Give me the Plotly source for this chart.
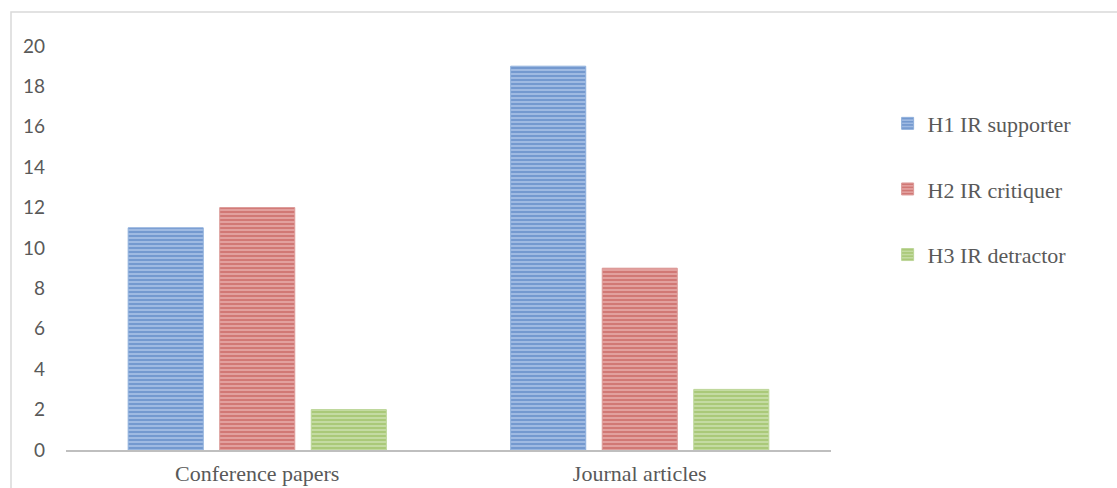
import plotly.graph_objects as go

categories = ["Conference papers", "Journal articles"]
series_names = ["H1 IR supporter", "H2 IR critiquer", "H3 IR detractor"]
h1_values = [11, 19]
h2_values = [12, 9]
h3_values = [2, 3]

fg_colors = ["#3f70b8", "#bb4542", "#89b248"]
bg_colors = ["#a9c2e6", "#e7aaa8", "#cbe0ab"]
edge_colors = ["#8fb0dc", "#dc9a98", "#bcd698"]

fig = go.Figure()
for i, (name, vals) in enumerate(zip(series_names, [h1_values, h2_values, h3_values])):
    fig.add_trace(go.Bar(
        x=categories,
        y=vals,
        name=name,
        legendgroup=name,
        marker=dict(
            color=bg_colors[i],
            line=dict(color=edge_colors[i], width=1),
            pattern=dict(shape="-", fgcolor=fg_colors[i], bgcolor=bg_colors[i],
                         size=4, solidity=0.6, fillmode="overlay"),
        ),
    ))

# Light frame around the chart area
fig.add_shape(type="rect", xref="paper", yref="paper",
              x0=-0.0719, x1=1.6, y0=-0.3, y1=1.084,
              line=dict(color="#d9d9d9", width=1.5), fillcolor="rgba(0,0,0,0)",
              layer="below")

fig.update_layout(
    width=1117, height=488,
    margin=dict(l=66, r=286, t=46, b=38, autoexpand=False),
    paper_bgcolor="white", plot_bgcolor="white",
    barmode="group", bargap=0.282, bargroupgap=0.18,
    showlegend=True,
    legend=dict(
        x=1.074, y=0.86, xanchor="left", yanchor="top",
        font=dict(family="Liberation Serif", size=22, color="#595959"),
        tracegroupgap=34, traceorder="grouped",
        itemwidth=30,
        bgcolor="rgba(0,0,0,0)",
    ),
    xaxis=dict(
        automargin=False,
        showgrid=False, showline=True, linecolor="#bfbfbf", linewidth=2,
        ticks="", tickfont=dict(family="Liberation Serif", size=22, color="#595959"),
        ticklabelstandoff=3, zeroline=False,
    ),
    yaxis=dict(
        automargin=False,
        range=[0, 20], dtick=2, tick0=0, showgrid=False, zeroline=False,
        showline=False, ticks="",
        tickfont=dict(family="Lato", size=19, color="#595959"),
        ticklabelstandoff=20,
    ),
)

fig.write_html("out.html")
